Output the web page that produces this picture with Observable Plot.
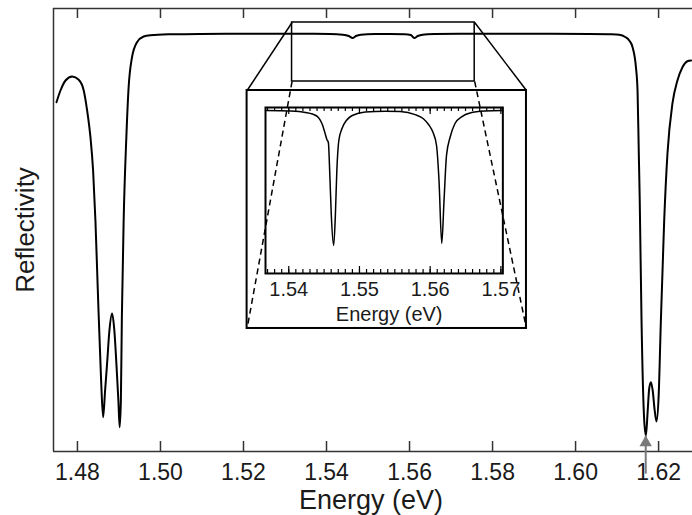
<!DOCTYPE html>
<html><head><meta charset="utf-8">
<script src="https://cdn.jsdelivr.net/npm/d3@7"></script>
<script src="https://cdn.jsdelivr.net/npm/@observablehq/plot@0.6"></script>
<style>
html,body{margin:0;padding:0;background:#fff;}
#chart{position:relative;width:692px;height:515px;}
#chart svg{position:absolute;left:0;top:0;overflow:visible;}
</style></head><body><div id="chart"></div>
<script>
// ---- data ----
const mainEnergy = [1.47495,1.47591,1.47712,1.47873,1.48031,1.48151,1.48233,1.48313,1.48377,1.48433,
  1.48488,1.48570,1.48618,1.48666,1.48714,1.48770,1.48834,1.48889,1.48938,1.48986,
  1.49017,1.49046,1.49070,1.49113,1.49178,1.49233,1.49315,1.49435,1.49594,1.49755,
  1.50236,1.50957,1.52159,1.53361,1.54082,1.54394,1.54538,1.54627,1.54707,1.54827,
  1.55163,1.55524,1.55885,1.56029,1.56113,1.56197,1.56317,1.56606,1.57207,1.58168,
  1.59370,1.60332,1.60813,1.61053,1.61197,1.61293,1.61373,1.61454,1.61493,1.61522,
  1.61546,1.61589,1.61654,1.61695,1.61738,1.61774,1.61815,1.61858,1.61906,1.61950,
  1.62002,1.62055,1.62135,1.62214,1.62334,1.62454,1.62575,1.62695,1.62784];
const mainReflectivity = [0.7885,0.8149,0.8375,0.8465,0.8391,0.8149,0.7698,0.7095,0.6343,0.5214,
  0.3709,0.1603,0.0774,0.1377,0.1986,0.2731,0.3115,0.2731,0.1986,0.1151,
  0.0549,0.1151,0.3032,0.5214,0.7095,0.8224,0.8901,0.9239,0.9368,0.9397,
  0.9418,0.9427,0.9429,0.9429,0.9424,0.9409,0.9379,0.9334,0.9379,0.9409,
  0.9422,0.9424,0.9418,0.9402,0.9334,0.9379,0.9409,0.9422,0.9429,0.9429,
  0.9429,0.9427,0.9418,0.9406,0.9357,0.9278,0.9126,0.8675,0.8149,0.6795,
  0.5666,0.2957,0.0700,0.0361,0.0926,0.1422,0.1564,0.1377,0.0926,0.0677,
  0.1264,0.2957,0.5214,0.6727,0.7856,0.8375,0.8675,0.8810,0.8826];

const insetEnergy = [1.53671,1.54024,1.54236,1.54334,1.54419,1.54475,1.54518,1.54539,1.54560,1.54581,
  1.54602,1.54635,1.54659,1.54680,1.54708,1.54753,1.54814,1.54898,1.55082,1.55364,
  1.55575,1.55787,1.55900,1.55977,1.56041,1.56090,1.56125,1.56164,1.56196,1.56231,
  1.56281,1.56351,1.56450,1.56563,1.56774,1.57028];
const insetReflectivity = [0.9436,0.94357,0.94349,0.9434,0.94321,0.94281,0.94225,0.94197,0.9418,0.93994,
  0.93769,0.936,0.93769,0.94022,0.94191,0.94259,0.94304,0.94332,0.94352,0.94356,
  0.94354,0.94337,0.94315,0.94281,0.94236,0.94163,0.93966,0.93611,0.93853,0.94107,
  0.94208,0.94287,0.94326,0.94346,0.94357,0.9436];

const mainTicks = [1.48,1.50,1.52,1.54,1.56,1.58,1.60,1.62];
const mainTickLabels = ["1.48","1.50","1.52","1.54","1.56","1.58","1.60","1.62"];
const insetMajorTicks = [1.54,1.55,1.56,1.57];
const insetTickLabels = ["1.54","1.55","1.56","1.57"];
const insetMinorTicks = d3.range(1537, 1571).map(v => v / 1000);

const arrowEnergy = [1.6169];
const arrowReflectivity = [-0.05, 0.036]; // tail, tip

const xTitle = "Energy (eV)";
const yTitle = "Reflectivity";

// ---- layout (main-plot data units) ----
const mainXDomain = [1.47423, 1.62817];
const mainYDomain = [0, 1];
const insetXDomain = [1.53671, 1.57028];
const insetYDomain = [0.93442, 0.94377];
const zoomBox = {x1: 1.5317, x2: 1.5757, y1: 0.8352, y2: 0.9684};
const insetBox = {x1: 1.52087, x2: 1.58817, y1: 0.2777, y2: 0.8149};

const FONT = "'Liberation Sans', Arial, Helvetica, sans-serif";
const W = 692, H = 515, MT = 8, MB = 64, ML = 53, MR = 0;
const innerH = H - MT - MB;
const frameColor = "#333";
const textColor = "#1a1a1a";

const mainData = mainEnergy.map((e, i) => ({e, r: mainReflectivity[i]}));
const insetData = insetEnergy.map((e, i) => ({e, r: insetReflectivity[i]}));

const solidLinks = [
  {x1: zoomBox.x1, y1: zoomBox.y2, x2: insetBox.x1, y2: insetBox.y2},
  {x1: zoomBox.x2, y1: zoomBox.y2, x2: insetBox.x2, y2: insetBox.y2}
];
const dashedLinks = [
  {x1: zoomBox.x1, y1: zoomBox.y1, x2: insetBox.x1, y2: insetBox.y1},
  {x1: zoomBox.x2, y1: zoomBox.y1, x2: insetBox.x2, y2: insetBox.y1}
];
const arrowData = [{e: arrowEnergy[0], r1: arrowReflectivity[0], r2: arrowReflectivity[1]}];

const main = Plot.plot({
  width: W, height: H,
  marginTop: MT, marginBottom: MB, marginLeft: ML, marginRight: MR,
  style: {fontFamily: FONT, background: "transparent", overflow: "visible", color: textColor},
  x: {domain: mainXDomain, axis: null},
  y: {domain: mainYDomain, axis: null},
  marks: [
    Plot.ruleY([mainYDomain[1]], {stroke: frameColor, strokeWidth: 1.5}),
    Plot.ruleY([mainYDomain[0]], {stroke: frameColor, strokeWidth: 1.5}),
    Plot.ruleX([mainXDomain[0]], {stroke: frameColor, strokeWidth: 1.5}),
    Plot.ruleX(mainTicks, {insetTop: innerH - 10, stroke: frameColor, strokeWidth: 1.5}),
    Plot.ruleX(mainTicks, {insetBottom: innerH - 10, stroke: frameColor, strokeWidth: 1.5}),
    Plot.text(mainTicks, {x: d => d, frameAnchor: "bottom", text: (d, i) => mainTickLabels[i],
      textAnchor: "middle", lineAnchor: "bottom", dy: 28, fontSize: 23, fill: textColor}),
    Plot.text([xTitle], {frameAnchor: "bottom", text: d => d, textAnchor: "middle", lineAnchor: "bottom",
      dy: 57, dx: -2, fontSize: 27, fill: textColor}),
    Plot.text([yTitle], {frameAnchor: "left", text: d => d, textAnchor: "middle", lineAnchor: "bottom",
      dx: -20, rotate: -90, fontSize: 26, fill: textColor}),
    Plot.rect([zoomBox], {x1: "x1", x2: "x2", y1: "y1", y2: "y2", fill: "none", stroke: "black", strokeWidth: 1.5}),
    Plot.rect([insetBox], {x1: "x1", x2: "x2", y1: "y1", y2: "y2", fill: "none", stroke: "black", strokeWidth: 2}),
    Plot.link(solidLinks, {x1: "x1", y1: "y1", x2: "x2", y2: "y2", stroke: "black", strokeWidth: 1.5}),
    Plot.link(dashedLinks, {x1: "x1", y1: "y1", x2: "x2", y2: "y2", stroke: "black", strokeWidth: 1.5, strokeDasharray: "6,4"}),
    Plot.line(mainData, {x: "e", y: "r", curve: "monotone-x", stroke: "black", strokeWidth: 2}),
    Plot.link(arrowData, {x1: "e", x2: "e", y1: "r1", y2: "r2", stroke: "#7a7a7a", strokeWidth: 2}),
    Plot.dot(arrowData, {x: "e", y: "r2", symbol: "triangle", r: 4.6, dy: 7, fill: "#7a7a7a", stroke: "none"})
  ]
});

const X = main.scale("x"), Y = main.scale("y");
const ix1 = X.apply(insetBox.x1), ix2 = X.apply(insetBox.x2);
const iy1 = Y.apply(insetBox.y2), iy2 = Y.apply(insetBox.y1);
const IW = ix2 - ix1, IH = iy2 - iy1;
const IML = 18, IMR = 24, IMT = 17, IMB = 55;
const innerIH = IH - IMT - IMB;

const inset = Plot.plot({
  width: IW, height: IH,
  marginTop: IMT, marginBottom: IMB, marginLeft: IML, marginRight: IMR,
  style: {fontFamily: FONT, background: "transparent", overflow: "visible", color: textColor},
  x: {domain: insetXDomain, axis: null},
  y: {domain: insetYDomain, axis: null},
  marks: [
    Plot.ruleX(insetMinorTicks, {insetTop: innerIH - 4, stroke: "black", strokeWidth: 1.2}),
    Plot.ruleX(insetMinorTicks, {insetBottom: innerIH - 4, stroke: "black", strokeWidth: 1.2}),
    Plot.ruleX(insetMajorTicks, {insetTop: innerIH - 7, stroke: "black", strokeWidth: 1.2}),
    Plot.ruleX(insetMajorTicks, {insetBottom: innerIH - 7, stroke: "black", strokeWidth: 1.2}),
    Plot.line(insetData, {x: "e", y: "r", curve: "monotone-x", stroke: "black", strokeWidth: 1.5}),
    Plot.frame({stroke: "black", strokeWidth: 2}),
    Plot.text(insetMajorTicks, {x: d => d, frameAnchor: "bottom", text: (d, i) => insetTickLabels[i],
      textAnchor: "middle", lineAnchor: "bottom", dy: 23, fontSize: 20, fill: textColor}),
    Plot.text([xTitle], {frameAnchor: "bottom", text: d => d, textAnchor: "middle", lineAnchor: "bottom",
      dy: 48, dx: 5, fontSize: 20, fill: textColor})
  ]
});
inset.style.left = ix1 + "px";
inset.style.top = iy1 + "px";

const chart = document.getElementById("chart");
chart.append(main);
chart.append(inset);
</script></body></html>
